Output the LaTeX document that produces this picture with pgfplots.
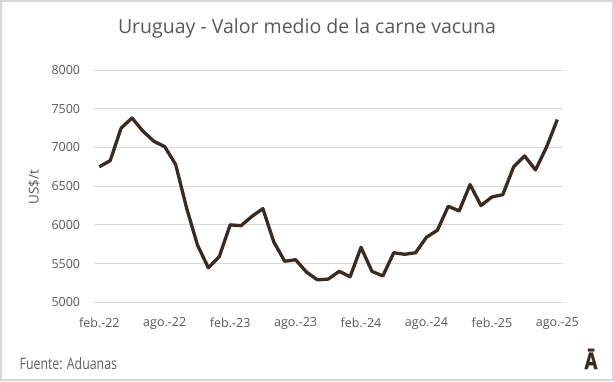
\documentclass[border=0pt]{standalone}
\usepackage{pgfplots}
\pgfplotsset{compat=1.18}
\usepackage{fontspec}
\setmainfont{Open Sans}
\newfontfamily\condfont[FakeStretch=0.78]{Open Sans}
\newfontfamily\logofont[FakeStretch=0.8,FakeBold=1.5]{Open Sans Bold}
\definecolor{linebrown}{HTML}{3B2A1F}
\definecolor{gridgray}{HTML}{D9D9D9}
\definecolor{txtgray}{HTML}{595959}
\definecolor{framegray}{HTML}{D6D6D6}
\begin{document}
\begin{tikzpicture}[x=1pt,y=1pt]
\useasboundingbox (0,0) rectangle (614,381);
\fill[white] (0,0) rectangle (614,381);
\draw[framegray, line width=2pt] (1,1) rectangle (613,380);
\begin{axis}[
  at={(94.3pt,78.7pt)}, anchor=south west,
  scale only axis, width=469pt, height=232.3pt,
  xmin=-0.46, xmax=42.55, ymin=5000, ymax=8000,
  axis line style={draw=none},
  tick style={draw=none},
  ymajorgrids, grid style={gridgray, line width=0.9pt},
  ytick={5000,5500,...,8000},
  xtick={0,6,...,42},
  xticklabels={feb.-22,ago.-22,feb.-23,ago.-23,feb.-24,ago.-24,feb.-25,ago.-25},
  /pgf/number format/.cd, set thousands separator={}, assume math mode=true,
  /pgfplots/.cd,
  ticklabel style={font=\fontsize{12.5}{14}\selectfont, text=txtgray},
  yticklabel style={anchor=east, inner sep=0pt, xshift=-14pt},
  xticklabel style={anchor=north, inner sep=0pt, yshift=-15pt},
  clip=false,
]
\addplot[linebrown, line width=3.3pt, line join=round, no markers] coordinates {
(0,6750) (1,6830) (2,7250) (3,7380) (4,7210) (5,7080) (6,7010) (7,6780)
(8,6220) (9,5740) (10,5445) (11,5590) (12,6000) (13,5990) (14,6110) (15,6210)
(16,5780) (17,5530) (18,5550) (19,5390) (20,5290) (21,5300) (22,5400) (23,5330)
(24,5710) (25,5400) (26,5340) (27,5640) (28,5620) (29,5640) (30,5840) (31,5930)
(32,6240) (33,6180) (34,6520) (35,6250) (36,6360) (37,6390) (38,6750) (39,6890)
(40,6710) (41,7000) (42,7360)
};
\end{axis}
\node[anchor=base, text=txtgray, font=\fontsize{19.5}{22}\selectfont, inner sep=0pt] at (307,347.5) {Uruguay - Valor medio de la carne vacuna};
\node[rotate=90, anchor=center, text=txtgray, font=\fontsize{13.5}{16}\selectfont, inner sep=0pt] at (34,194) {US\$/t};
\node[anchor=base west, text=txtgray!95, font=\condfont\fontsize{15.8}{18}\selectfont, inner sep=0pt] at (19.5,12) {Fuente: Aduanas};
\node[anchor=base, text=linebrown, font=\logofont\fontsize{23}{25}\selectfont, inner sep=0pt] at (591,12) {Ā};
\end{tikzpicture}
\end{document}
